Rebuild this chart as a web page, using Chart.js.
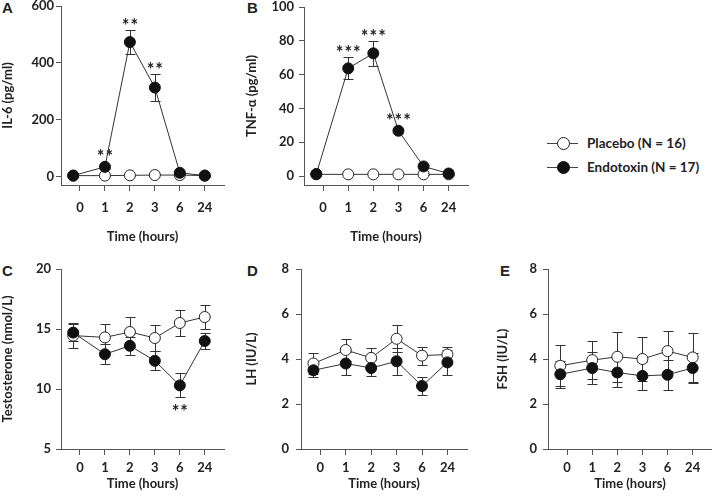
<!DOCTYPE html>
<html lang="en">
<head>
<meta charset="UTF-8">
<title>Endotoxin time course</title>
<script src="https://cdn.jsdelivr.net/npm/chart.js"></script>
<style>
  html, body { margin: 0; padding: 0; background: #fff; overflow: hidden; }
  body { width: 712px; height: 499px; position: relative; font-family: Lato, 'Open Sans', sans-serif; font-weight: bold; color: #222; }
  canvas { position: absolute; }
  .tag { position: absolute; font: bold 15px 'Liberation Sans', Arial, sans-serif; line-height: 16px; }
  .key { position: absolute; left: 547px; width: 160px; height: 16px; }
  .key .ln { position: absolute; left: 0; top: 8px; width: 31px; height: 1px; background: #444; }
  .key .dot { position: absolute; left: 10px; top: 2px; width: 11px; height: 11px; border: 1px solid #222; border-radius: 50%; background: #fff; }
  .key .dot.fill { background: #111; border-color: #111; }
  .key .txt { position: absolute; left: 40px; top: 0; font-size: 13.5px; line-height: 16px; white-space: nowrap; }
</style>
</head>
<body>
<div class="tag" style="left:2px;top:0px">A</div>
<div class="tag" style="left:247px;top:0px">B</div>
<div class="tag" style="left:2px;top:263px">C</div>
<div class="tag" style="left:247px;top:263px">D</div>
<div class="tag" style="left:500px;top:263px">E</div>

<div class="key" style="top:135px"><span class="ln"></span><span class="dot"></span><span class="txt">Placebo (N = 16)</span></div>
<div class="key" style="top:159px"><span class="ln"></span><span class="dot fill"></span><span class="txt">Endotoxin (N = 17)</span></div>

<canvas id="il6" width="234" height="259" style="left:0px;top:-14px"></canvas>
<canvas id="tnf" width="234" height="258" style="left:244px;top:-13px"></canvas>
<canvas id="testo" width="234" height="243" style="left:0px;top:249px"></canvas>
<canvas id="lh" width="233" height="243" style="left:244px;top:249px"></canvas>
<canvas id="fsh" width="227" height="243" style="left:495px;top:249px"></canvas>

<script>
// sampling times (category labels) and where each sample sits on the axis
const times = ['0', '1', '2', '3', '6', '24'];
const xPos = [-0.27, 1, 2, 3, 4, 5];

// A: IL-6 (pg/ml)
const il6Placebo = [3, 3, 4, 5, 5, 3];
const il6PlaceboErr = [1, 1, 1, 1, 1, 1];
const il6Endo = [3, 34, 473, 313, 13, 3];
const il6EndoErr = [1, 8, 42, 46, 4, 1];
const il6Stars = ['', '**', '**', '**', '', ''];

// B: TNF-alpha (pg/ml)
const tnfPlacebo = [1, 1, 1, 1, 1, 1];
const tnfPlaceboErr = [0.3, 0.3, 0.3, 0.3, 0.3, 0.3];
const tnfEndo = [1.2, 63.7, 72.6, 26.8, 5.7, 1.5];
const tnfEndoErr = [0.3, 6.5, 7.5, 1.5, 1, 0.5];
const tnfStars = ['', '***', '***', '***', '', ''];

// C: testosterone (nmol/L)
const testoPlacebo = [14.45, 14.3, 14.75, 14.25, 15.5, 16.0];
const testoPlaceboErr = [1.05, 1.1, 1.25, 1.1, 1.1, 1.0];
const testoEndo = [14.7, 12.9, 13.6, 12.35, 10.3, 14.0];
const testoEndoErr = [0.7, 0.85, 0.75, 0.8, 1.0, 0.7];
const testoStars = ['', '', '', '', '**', ''];

// D: LH (IU/L)
const lhPlacebo = [3.8, 4.4, 4.05, 4.9, 4.15, 4.2];
const lhPlaceboErr = [0.45, 0.5, 0.45, 0.6, 0.4, 0.35];
const lhEndo = [3.5, 3.8, 3.6, 3.9, 2.8, 3.85];
const lhEndoErr = [0.3, 0.5, 0.35, 0.6, 0.4, 0.55];

// E: FSH (IU/L)
const fshPlacebo = [3.7, 3.95, 4.1, 4.0, 4.35, 4.07];
const fshPlaceboErr = [0.9, 0.85, 1.1, 0.97, 0.9, 1.1];
const fshEndo = [3.32, 3.6, 3.4, 3.25, 3.3, 3.6];
const fshEndoErr = [0.6, 0.7, 0.65, 0.62, 0.67, 0.67];

Chart.defaults.font.family = "Lato, 'Open Sans', sans-serif";
Chart.defaults.font.size = 13;
Chart.defaults.font.weight = 'bold';
Chart.defaults.color = '#222';

// mean +/- SEM bars under the markers, significance stars on top
const errorBars = {
  id: 'errorBars',
  beforeDatasetsDraw(chart) {
    const { ctx, scales: { x, y } } = chart;
    ctx.save();
    ctx.strokeStyle = '#333';
    ctx.lineWidth = 1;
    chart.data.datasets.forEach(ds => {
      ds.data.forEach((pt, i) => {
        const e = ds.errors[i];
        const px = Math.round(x.getPixelForValue(pt.x)) + 0.5;
        const hi = Math.round(y.getPixelForValue(pt.y + e)) + 0.5;
        const lo = Math.round(y.getPixelForValue(pt.y - e)) + 0.5;
        ctx.beginPath();
        ctx.moveTo(px, hi); ctx.lineTo(px, lo);
        ctx.moveTo(px - 5, hi); ctx.lineTo(px + 5, hi);
        ctx.moveTo(px - 5, lo); ctx.lineTo(px + 5, lo);
        ctx.stroke();
      });
    });
    ctx.restore();
  },
  afterDatasetsDraw(chart, args, opts) {
    if (!opts.marks) return;
    const { ctx, scales: { x, y } } = chart;
    const ds = chart.data.datasets[0];
    ctx.save();
    ctx.fillStyle = '#222';
    ctx.font = "bold 18px Lato, 'Open Sans', sans-serif";
    ctx.letterSpacing = '1px';
    ctx.textAlign = 'center';
    ctx.textBaseline = 'alphabetic';
    opts.marks.forEach((m, i) => {
      if (!m) return;
      const pt = ds.data[i], e = ds.errors[i];
      const px = x.getPixelForValue(pt.x) + 0.5;
      if (opts.below) {
        const bot = Math.max(y.getPixelForValue(pt.y - e), y.getPixelForValue(pt.y) + 6);
        ctx.fillText(m, px, bot + 21);
      } else {
        const top = Math.min(y.getPixelForValue(pt.y + e), y.getPixelForValue(pt.y) - 6);
        ctx.fillText(m, px, top + 2);
      }
    });
    ctx.restore();
  }
};

function series(vals, errs, filled) {
  return {
    data: vals.map((v, i) => ({ x: xPos[i], y: v })),
    errors: errs,
    showLine: true,
    borderColor: '#333',
    borderWidth: 1,
    pointRadius: 5.5,
    pointBorderWidth: 1,
    pointBackgroundColor: filled ? '#111' : '#fff',
    pointBorderColor: filled ? '#111' : '#222',
    clip: false
  };
}

function panel(id, p) {
  return new Chart(document.getElementById(id), {
    type: 'scatter',
    data: {
      datasets: [series(p.endo, p.endoErr, true), series(p.plac, p.placErr, false)]
    },
    options: {
      responsive: false,
      animation: false,
      layout: { padding: { top: 20, right: 10, left: 0, bottom: 0 } },
      plugins: {
        legend: { display: false },
        tooltip: { enabled: false },
        errorBars: { marks: p.stars, below: !!p.below }
      },
      scales: {
        x: {
          type: 'linear',
          min: -0.76,
          max: 5.77,
          afterBuildTicks: s => { s.ticks = times.map((t, i) => ({ value: i })); },
          afterFit: s => { s.height = p.xH; },
          ticks: { callback: (v, i) => times[i], padding: p.xPad, maxRotation: 0, autoSkip: false },
          grid: { drawOnChartArea: false, tickLength: 6, color: '#555' },
          border: { color: '#555' },
          title: { display: true, text: 'Time (hours)', padding: 0 }
        },
        y: {
          min: p.min,
          max: p.max,
          afterBuildTicks: s => { s.ticks = p.yTicks.map(v => ({ value: v })); },
          afterFit: s => { s.width = p.yW; },
          ticks: { padding: p.yPad },
          grid: { drawOnChartArea: false, tickLength: 5, color: '#555' },
          border: { color: '#555' },
          title: { display: true, text: p.title, padding: 0 }
        }
      }
    },
    plugins: [errorBars]
  });
}

panel('il6', {
  endo: il6Endo, endoErr: il6EndoErr, plac: il6Placebo, placErr: il6PlaceboErr,
  stars: il6Stars, title: 'IL-6 (pg/ml)',
  min: -30, max: 600, yTicks: [0, 200, 400, 600],
  yW: 61, yPad: 2, xH: 60, xPad: 9
});
panel('tnf', {
  endo: tnfEndo, endoErr: tnfEndoErr, plac: tnfPlacebo, placErr: tnfPlaceboErr,
  stars: tnfStars, title: 'TNF-α (pg/ml)',
  min: -5.3, max: 100, yTicks: [0, 20, 40, 60, 80, 100],
  yW: 60, yPad: 5, xH: 60, xPad: 9
});
panel('testo', {
  endo: testoEndo, endoErr: testoEndoErr, plac: testoPlacebo, placErr: testoPlaceboErr,
  stars: testoStars, below: true, title: 'Testosterone (nmol/L)',
  min: 5, max: 20, yTicks: [5, 10, 15, 20],
  yW: 61, yPad: 5, xH: 43, xPad: 5
});
panel('lh', {
  endo: lhEndo, endoErr: lhEndoErr, plac: lhPlacebo, placErr: lhPlaceboErr,
  title: 'LH (IU/L)',
  min: 0, max: 8, yTicks: [0, 2, 4, 6, 8],
  yW: 57, yPad: 7, xH: 43, xPad: 5
});
panel('fsh', {
  endo: fshEndo, endoErr: fshEndoErr, plac: fshPlacebo, placErr: fshPlaceboErr,
  title: 'FSH (IU/L)',
  min: 0, max: 8, yTicks: [0, 2, 4, 6, 8],
  yW: 53, yPad: 6, xH: 43, xPad: 5
});
</script>
</body>
</html>
